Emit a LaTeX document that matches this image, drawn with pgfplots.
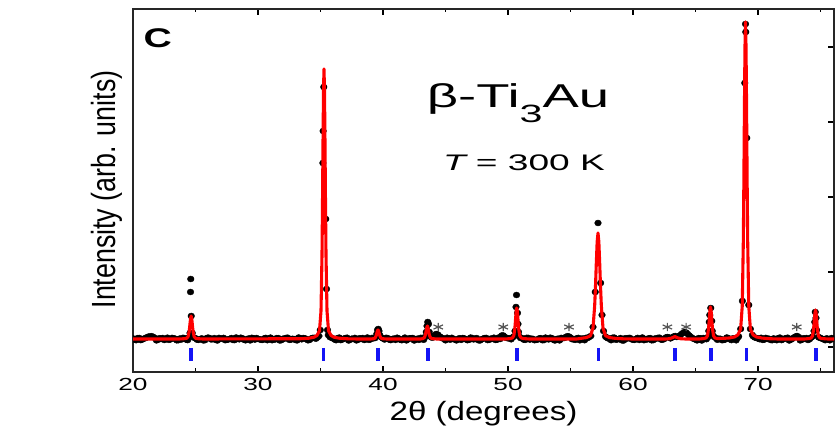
\documentclass[border=0pt]{standalone}
\usepackage{fontspec}
\setmainfont{Liberation Sans}
\newfontfamily\tickfont{Liberation Sans}[FakeStretch=1.5]
\newfontfamily\xlabfont{Liberation Sans}[FakeStretch=1.25]
\newfontfamily\titfont{Liberation Sans}[FakeStretch=1.65]
\newfontfamily\cfont{Liberation Sans}[FakeStretch=1.45]
\usepackage{graphicx}
\usepackage{pgfplots}
\pgfplotsset{compat=1.18}
\definecolor{fitred}{RGB}{255,0,0}
\definecolor{tickblue}{RGB}{20,20,245}
\definecolor{stargray}{RGB}{85,85,85}
\begin{document}
\begin{tikzpicture}
\useasboundingbox (0,0) rectangle (838pt,428pt);
\begin{axis}[
  at={(133pt,56pt)}, anchor=south west,
  scale only axis, width=701pt, height=363pt,
  xmin=20, xmax=76.08, ymin=-33, ymax=330,
  xtick={20,30,40,50,60,70}, minor xtick={25,35,45,55,65,75},
  ytick={-8,67,142,217,292}, yticklabels={}, ytick pos=right,
  tick align=inside, major tick length=6pt, minor tick length=3.5pt,
  tick style={black, line width=1.1pt},
  axis line style={line width=1.3pt, black!85},
  xticklabel style={font=\fontsize{17.5}{18}\tickfont, yshift=-3pt},
  /pgf/number format/assume math mode=true,
  clip marker paths=true,
]
% observed data (black dots)
\addplot[only marks, mark=*, mark size=3.0pt, black, mark options={xscale=1.12}] coordinates {
(20.00,0.6) (20.25,-1.2) (20.50,1.0) (20.75,-0.4)
(21.00,0.9) (21.25,2.5) (21.50,2.8) (21.75,1.1)
(22.00,-0.8) (22.25,0.2) (22.50,-1.0) (22.75,1.3)
(23.00,-0.3) (23.25,0.7) (23.50,-1.3) (23.75,0.5)
(24.00,1.2) (24.25,-0.6) (24.45,1.5)
(24.56,6) (24.60,47) (24.62,60) (24.66,23) (24.74,6)
(25.00,0.8) (25.25,-0.9) (25.50,0.6) (25.75,-1.2)
(26.00,1.4) (26.25,-0.4) (26.50,0.9) (26.75,-1.5)
(27.00,0.3) (27.25,1.1) (27.50,-0.8) (27.75,0.2)
(28.00,-1.0) (28.25,1.5) (28.50,-0.3) (28.75,0.7)
(29.00,-1.3) (29.25,0.5) (29.50,1.2) (29.75,-0.6)
(30.00,0.1) (30.25,-0.9) (30.50,0.6) (30.75,-1.2)
(31.00,1.4) (31.25,-0.4) (31.50,0.9) (31.75,-1.5)
(32.00,0.3) (32.25,1.1) (32.50,-0.8) (32.75,0.2)
(33.00,-1.0) (33.25,1.5) (33.50,-0.3) (33.75,0.7)
(34.00,-1.3) (34.25,0.5) (34.50,1.2) (34.75,1.5)
(34.98,9) (35.19,176) (35.21,208) (35.26,252) (35.42,120) (35.48,50) (35.56,9)
(35.75,2.0)
(36.00,0.6) (36.25,-1.2) (36.50,1.4) (36.75,-0.4)
(37.00,0.9) (37.25,-1.5) (37.50,0.3) (37.75,1.1)
(38.00,-0.8) (38.25,0.2) (38.50,-1.0) (38.75,1.5)
(39.00,-0.3) (39.25,0.7)
(39.50,5) (39.56,9) (39.62,10) (39.68,8) (39.74,4)
(40.00,0.5) (40.25,1.2) (40.50,-0.6) (40.75,0.1)
(41.00,-0.9) (41.25,0.6) (41.50,-1.2) (41.75,1.4)
(42.00,-0.4) (42.25,0.9) (42.50,-1.5) (42.75,0.3)
(43.00,1.1) (43.25,-0.8)
(43.46,7) (43.52,13) (43.58,17) (43.64,15) (43.70,7) (43.80,3)
(44.00,1.5) (44.10,3) (44.25,5) (44.40,4) (44.55,2.5) (44.75,0.7)
(45.00,-1.3) (45.25,0.5) (45.50,1.2) (45.75,-0.6)
(46.00,0.1) (46.25,-0.9) (46.50,0.6) (46.75,-1.2)
(47.00,1.4) (47.25,-0.4) (47.50,0.9) (47.75,-1.5)
(48.00,0.3) (48.25,1.1) (48.50,-0.8) (48.75,0.2)
(49.00,-1.0) (49.25,1.5) (49.50,3.5) (49.75,2.0)
(50.00,0.7) (50.25,-0.3) (50.45,2.5)
(50.56,8) (50.64,32) (50.68,44) (50.76,26) (50.80,15) (50.84,7)
(51.00,1.0) (51.25,-0.6) (51.50,1.2) (51.75,-0.6)
(52.00,0.1) (52.25,-0.9) (52.50,0.6) (52.75,-1.2)
(53.00,1.4) (53.25,-0.4) (53.50,0.9) (53.75,-1.5)
(54.00,0.3) (54.25,1.1) (54.50,1.0) (54.75,2.8)
(55.00,1.5) (55.25,-0.3) (55.50,0.7) (55.75,-1.3)
(56.00,0.5) (56.25,1.2) (56.50,2.0)
(56.80,12) (56.98,47) (57.20,116) (57.41,56) (57.52,24) (57.64,8)
(57.80,2.5)
(58.00,0.6) (58.25,-1.2) (58.50,1.4) (58.75,-0.4)
(59.00,0.9) (59.25,-1.5) (59.50,0.3) (59.75,1.1)
(60.00,-0.8) (60.25,0.2) (60.50,-1.0) (60.75,1.5)
(61.00,-0.3) (61.25,0.7) (61.50,-1.3) (61.75,0.5)
(62.00,1.2) (62.25,-0.6) (62.50,0.1) (62.75,2.0)
(63.00,0.6) (63.25,2.5) (63.50,2.0) (63.75,3.5)
(64.00,6.0) (64.25,6.5) (64.50,3.5) (64.75,1.0)
(65.00,-0.4) (65.25,0.9) (65.50,-1.5) (65.75,0.3)
(66.00,2.0)
(66.06,8) (66.10,17) (66.14,24) (66.22,31) (66.30,18) (66.34,8)
(66.50,2.0) (66.75,-0.8)
(67.00,0.2) (67.25,-1.0) (67.50,1.5) (67.75,-0.3)
(68.00,0.7) (68.25,-1.3) (68.45,2.5)
(68.61,10) (68.75,38) (68.94,256) (69.00,315) (69.02,307) (69.10,201) (69.26,34) (69.39,10)
(69.55,4.0) (69.75,1.5)
(70.00,0.5) (70.25,1.2) (70.50,-0.6) (70.75,0.1)
(71.00,-0.9) (71.25,0.6) (71.50,-1.2) (71.75,1.4)
(72.00,-0.4) (72.25,0.9) (72.50,-1.5) (72.75,0.3)
(73.00,2.5) (73.25,2.0) (73.50,-0.8) (73.75,0.2)
(74.00,-1.0) (74.25,1.5)
(74.48,8) (74.54,17) (74.58,27) (74.64,21) (74.68,9)
(74.85,2.0)
(75.00,1.0) (75.25,-0.3) (75.50,0.7) (75.75,-1.3)
(76.00,0.5)
(20.125,-0.5) (20.375,0.9) (20.625,-1.1) (20.875,0.4)
(21.125,1.8) (21.375,2.4) (21.625,2.0) (21.875,-1.4)
(22.125,0.8) (22.375,1.0) (22.625,-0.2) (22.875,-0.9)
(23.125,1.1) (23.375,0.3) (23.625,-1.2) (23.875,-0.5)
(24.125,0.9) (24.375,-1.1) (24.875,1.3)
(25.125,-0.7) (25.375,0.0) (25.625,-1.4) (25.875,0.8)
(26.125,1.0) (26.375,-0.2) (26.625,-0.9) (26.875,1.1)
(27.125,0.3) (27.375,-1.2) (27.625,-0.5) (27.875,0.9)
(28.125,-1.1) (28.375,0.4) (28.625,1.3) (28.875,-0.7)
(29.125,0.0) (29.375,-1.4) (29.625,0.8) (29.875,1.0)
(30.125,-0.2) (30.375,-0.9) (30.625,1.1) (30.875,0.3)
(31.125,-1.2) (31.375,-0.5) (31.625,0.9) (31.875,-1.1)
(32.125,0.4) (32.375,1.3) (32.625,-0.7) (32.875,0.0)
(33.125,-1.4) (33.375,0.8) (33.625,1.0) (33.875,-0.2)
(34.125,-0.9) (34.375,1.1) (34.625,0.3) (34.875,3.0)
(35.625,4.0) (35.875,1.2)
(36.125,-0.5) (36.375,0.9) (36.625,-1.1) (36.875,0.4)
(37.125,1.3) (37.375,-0.7) (37.625,0.0) (37.875,-1.4)
(38.125,0.8) (38.375,1.0) (38.625,-0.2) (38.875,-0.9)
(39.125,1.1) (39.375,1.0) (39.875,1.5)
(40.125,-0.5) (40.375,0.9) (40.625,-1.1) (40.875,0.4)
(41.125,1.3) (41.375,-0.7) (41.625,0.0) (41.875,-1.4)
(42.125,0.8) (42.375,1.0) (42.625,-0.2) (42.875,-0.9)
(43.125,1.1) (43.375,2.0) (43.875,1.5)
(44.125,3.5) (44.375,4.5) (44.625,1.5) (44.875,0.4)
(45.125,1.3) (45.375,-0.7) (45.625,0.0) (45.875,-1.4)
(46.125,0.8) (46.375,1.0) (46.625,-0.2) (46.875,-0.9)
(47.125,1.1) (47.375,0.3) (47.625,-1.2) (47.875,-0.5)
(48.125,0.9) (48.375,-1.1) (48.625,0.4) (48.875,1.3)
(49.125,-0.7) (49.375,0.0) (49.625,3.5) (49.875,1.0)
(50.125,0.8) (50.375,1.5) (50.875,3.0)
(51.125,1.0) (51.375,-0.9) (51.625,1.1) (51.875,0.3)
(52.125,-1.2) (52.375,-0.5) (52.625,0.9) (52.875,-1.1)
(53.125,0.4) (53.375,1.3) (53.625,-0.7) (53.875,0.0)
(54.125,-1.4) (54.375,0.8) (54.625,2.0) (54.875,2.5)
(55.125,-0.2) (55.375,-0.9) (55.625,1.1) (55.875,0.3)
(56.125,-1.2) (56.375,1.0) (56.625,3.0)
(57.875,1.5)
(58.125,0.4) (58.375,1.3) (58.625,-0.7) (58.875,0.0)
(59.125,-1.4) (59.375,0.8) (59.625,1.0) (59.875,-0.2)
(60.125,-0.9) (60.375,1.1) (60.625,0.3) (60.875,-1.2)
(61.125,-0.5) (61.375,0.9) (61.625,-1.1) (61.875,0.4)
(62.125,1.3) (62.375,-0.7) (62.625,1.5) (62.875,1.5)
(63.125,1.5) (63.375,3.0) (63.625,2.5) (63.875,5.0)
(64.125,7.0) (64.375,5.0) (64.625,2.0) (64.875,0.0)
(65.125,-1.4) (65.375,0.8) (65.625,1.0) (65.875,-0.2)
(66.375,4.0) (66.625,1.0) (66.875,0.3)
(67.125,-1.2) (67.375,-0.5) (67.625,0.9) (67.875,-1.1)
(68.125,0.4) (68.375,1.3)
(69.625,2.5) (69.875,1.0)
(70.125,-0.2) (70.375,-0.9) (70.625,1.1) (70.875,0.3)
(71.125,-1.2) (71.375,-0.5) (71.625,0.9) (71.875,-1.1)
(72.125,0.4) (72.375,1.3) (72.625,-0.7) (72.875,1.5)
(73.125,3.0) (73.375,-1.4) (73.625,0.8) (73.875,1.0)
(74.125,-0.2) (74.375,2.5) (74.875,1.5)
(75.125,0.3) (75.375,-1.2) (75.625,-0.5) (75.875,0.9)
};
% fit (red line)
\addplot[fitred, line width=3.1pt, line join=round] coordinates {
(20,0) (23.7,0) (24.09,0.3) (24.29,0.7) (24.41,2.4) (24.49,7.2) (24.53,11.5) (24.57,16.6) (24.61,21.1) (24.65,23) (24.69,21.1) (24.73,16.6) (24.77,11.5) (24.81,7.2) (24.89,2.4) (25.01,0.7) (25.21,0.3) (25.6,0)
(33.5,0.3) (34.08,0.8) (34.48,1.8) (34.72,3.5) (34.92,8.4) (35.04,28.1) (35.12,84.2) (35.16,135) (35.2,194.9) (35.24,247.9) (35.28,270) (35.32,247.9) (35.36,194.9) (35.4,135) (35.44,84.2) (35.52,28.1) (35.64,8.4) (35.84,3.5) (36.08,1.8) (36.48,0.8) (37.2,0.2) (38.0,0)
(39.0,0) (39.24,0.3) (39.36,0.9) (39.44,2.8) (39.48,4.5) (39.52,6.5) (39.56,8.3) (39.6,9) (39.64,8.3) (39.68,6.5) (39.72,4.5) (39.76,2.8) (39.84,0.9) (39.96,0.3) (40.3,0)
(43.0,0) (43.19,0.4) (43.31,1.4) (43.39,4.1) (43.43,6.5) (43.47,9.4) (43.51,11.9) (43.55,13) (43.59,11.9) (43.63,9.4) (43.67,6.5) (43.71,4.1) (43.79,1.4) (43.91,0.4) (44.3,0)
(49.8,0) (50.14,0.4) (50.34,1.0) (50.46,3.2) (50.54,9.7) (50.58,15.5) (50.62,22.4) (50.66,28.5) (50.7,31) (50.74,28.5) (50.78,22.4) (50.82,15.5) (50.86,9.7) (50.94,3.2) (51.06,1.0) (51.26,0.4) (51.7,0)
(55.5,0) (55.87,0.7) (56.27,1.4) (56.6,3.3) (56.8,11.0) (56.933,33.1) (57.0,53) (57.067,76.5) (57.133,97.3) (57.2,106) (57.267,97.3) (57.333,76.5) (57.4,53) (57.467,33.1) (57.6,11.0) (57.8,3.3) (58.13,1.4) (58.53,0.7) (59.2,0.2) (60.0,0)
(62.6,0) (62.9,0.3) (63.2,1.5) (63.35,2.5) (63.5,1.5) (63.8,0.3) (64.2,0)
(65.3,0) (65.64,0.4) (65.84,1.0) (65.96,3.3) (66.04,10) (66.08,16) (66.12,23.1) (66.16,29.4) (66.2,32) (66.24,29.4) (66.28,23.1) (66.32,16) (66.36,10) (66.44,3.3) (66.56,1.0) (66.76,0.5) (67.2,0.6)
(67.7,1.0) (68.13,2.1) (68.39,4.1) (68.61,9.8) (68.74,33.0) (68.827,98.9) (68.87,158.5) (68.913,228.9) (68.957,291) (69.0,317) (69.043,291) (69.087,228.9) (69.13,158.5) (69.173,98.9) (69.26,33.0) (69.39,9.8) (69.607,4.1) (69.867,2.1) (70.3,0.95) (70.9,0.3) (71.6,0)
(73.7,0) (74.04,0.4) (74.24,0.9) (74.36,3.0) (74.44,9.0) (74.48,14.5) (74.52,20.9) (74.56,26.6) (74.6,29) (74.64,26.6) (74.68,20.9) (74.72,14.5) (74.76,9.0) (74.84,3.0) (74.96,0.9) (75.16,0.4) (75.6,0) (76.08,0)
};
% Bragg positions (blue ticks)
\addplot[tickblue, line width=3.5pt] coordinates {(24.64,-9) (24.64,-22)};
\addplot[tickblue, line width=3.5pt] coordinates {(35.25,-9) (35.25,-22)};
\addplot[tickblue, line width=3.5pt] coordinates {(39.60,-9) (39.60,-22)};
\addplot[tickblue, line width=3.5pt] coordinates {(43.60,-9) (43.60,-22)};
\addplot[tickblue, line width=3.5pt] coordinates {(50.72,-9) (50.72,-22)};
\addplot[tickblue, line width=3.5pt] coordinates {(57.25,-9) (57.25,-22)};
\addplot[tickblue, line width=3.5pt] coordinates {(63.36,-9) (63.36,-22)};
\addplot[tickblue, line width=3.5pt] coordinates {(66.24,-9) (66.24,-22)};
\addplot[tickblue, line width=3.5pt] coordinates {(69.08,-9) (69.08,-22)};
\addplot[tickblue, line width=3.5pt] coordinates {(74.64,-9) (74.64,-22)};
% impurity stars
\addplot[only marks, mark=asterisk, mark size=4.2pt, stargray, mark options={line width=1.2pt, xscale=1.3}] coordinates {
(44.42,12) (49.62,12) (54.88,12) (62.75,12) (64.25,12) (73.10,12)
};
\end{axis}
\node[anchor=base west, font=\fontsize{27}{27}\cfont\bfseries] at (140pt,380pt) {C};
\node[anchor=base, font=\fontsize{33}{33}\titfont] at (518pt,320pt) {β-Ti\raisebox{-15pt}{\fontsize{25}{25}\titfont 3}Au};
\node[anchor=base, font=\fontsize{22.5}{22.5}\titfont] at (524pt,257pt) {{\itshape T} = 300 K};
\node[anchor=base, font=\fontsize{26.5}{26.5}\xlabfont] at (483.5pt,7pt) {2θ (degrees)};
\node[rotate=90, anchor=base, font=\fontsize{26.8}{26.8}\selectfont] at (115pt,238.5pt) {\scalebox{1}[1.25]{Intensity (arb. units)}};
\end{tikzpicture}
\end{document}
